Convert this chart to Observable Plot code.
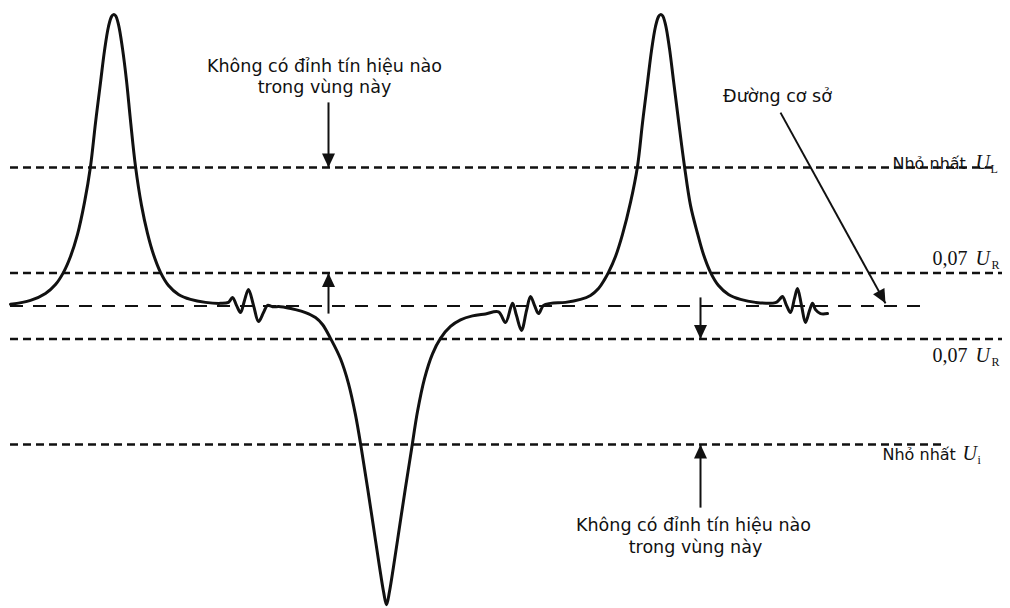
<!DOCTYPE html>
<html><head><meta charset="utf-8">
<script src="https://cdn.jsdelivr.net/npm/d3@7"></script>
<script src="https://cdn.jsdelivr.net/npm/@observablehq/plot@0.6"></script>
<style>body{margin:0;background:#fff}</style>
</head><body><div id="chart"></div>
<script>
// Signal trace: time (arbitrary units) and amplitude relative to the baseline
const signalT = [10,30,45,55,63,70,77,84,90,95,100,104,108,111,113,115,118,122,126,130,135,141,147,153,160,168,178,190,205,220,
  228,232,236,240,244,248,253,258,263,267,272,280,295,305,315,322,
  330,340,348,355,361,367,373,379,383,386,389,393,399,405,411,417,424,432,440,450,460,472,485,498,
  505,512,516,521,526,530,534,538,543,550,565,580,590,598,604,608,615,622,630,637,642,647,651,655,658,660,662,665,669,673,678,684,690,697,703,710,718,728,740,755,775,
  779,782,786,790,794,797,801,805,809,812,815,820,827];
const signalV = [0.5,1.7,3.8,6.5,10.2,15.0,21.7,31.4,42.3,55.5,67.7,77.4,84.7,87.7,88.3,88.0,85.3,78.0,68.3,56.2,42.3,30.5,22.0,15.6,10.2,6.2,3.5,2.0,1.1,0.8,
  1.1,2.6,0.2,-2.0,1.7,5.0,0.2,-4.7,-2.0,0.2,-0.2,-0.2,-1.1,-2.0,-3.5,-5.6,
  -9.8,-16.0,-23.5,-33.0,-43.5,-55.0,-67.0,-79.0,-86.5,-90.5,-86.5,-79.0,-67.0,-55.0,-43.5,-32.0,-22.0,-14.5,-9.8,-6.2,-4.2,-3.0,-2.4,-1.8,
  -5.0,0.8,-2.9,-7.4,-1.4,2.9,0.2,-2.3,0.2,0.8,1.1,2.0,3.2,5.3,8.0,10.2,15.0,21.7,31.4,42.3,55.5,67.7,77.4,84.7,87.7,88.3,88.0,85.3,78.0,68.3,56.2,42.3,30.5,22.0,15.6,10.2,6.2,3.5,2.0,1.1,1.0,
  2.0,2.9,0.2,-2.0,2.3,5.3,0.2,-5.0,-1.4,0.8,-1.1,-2.3,-2.3];

// Threshold levels (amplitude) and their time extents
const levelNames = ["Nhỏ nhất U_L", "+0,07 U_R", "Đường cơ sở", "-0,07 U_R", "Nhỏ nhất U_i"];
const levelValues = [42, 10, 0, -10, -42];
const levelFrom = [10, 10, 10, 10, 10];
const levelTo = [992, 1002, 927, 1002, 942];

// Annotation arrows (from -> to)
const arrowT1 = [328, 328, 700, 700, 780];
const arrowV1 = [61.7, -2.3, 2.6, -61.1, 58.6];
const arrowT2 = [328, 328, 700, 700, 885];
const arrowV2 = [42, 10, -10, -42, 0.8];

// Annotation texts
const noteText = ["Không có đỉnh tín hiệu nào", "trong vùng này", "Không có đỉnh tín hiệu nào", "trong vùng này", "Đường cơ sở"];
const noteT = [324, 324, 693, 695, 777];
const noteV = [70.8, 64.4, -68.3, -75.0, 61.7];

// Level labels: prefix, symbol, subscript
const labelPrefix = ["Nhỏ nhất", "0,07", "0,07", "Nhỏ nhất"];
const labelPrefixT = [892, 932, 932, 882];
const labelV = [41.4, 12.3, -17.1, -46.8];
const labelSymbol = ["U", "U", "U", "U"];
const labelSymbolT = [975, 975, 975, 962];
const labelSub = ["L", "R", "R", "i"];
const labelSubT = [990, 991, 991, 977];
const labelSubV = [40.2, 11.1, -18.3, -48.0];

const signal = signalT.map((t, i) => ({t, v: signalV[i]}));
const levels = levelNames.map((name, i) => ({name, v: levelValues[i], t1: levelFrom[i], t2: levelTo[i]}));
const arrows = arrowT1.map((t, i) => ({t1: t, v1: arrowV1[i], t2: arrowT2[i], v2: arrowV2[i]}));

function head(color) {
  const ns = "http://www.w3.org/2000/svg";
  const m = document.createElementNS(ns, "marker");
  m.setAttribute("viewBox", "-15 -8 16 16");
  m.setAttribute("markerWidth", "16");
  m.setAttribute("markerHeight", "16");
  m.setAttribute("markerUnits", "userSpaceOnUse");
  m.setAttribute("orient", "auto");
  const p = document.createElementNS(ns, "path");
  p.setAttribute("d", "M0,0L-14,-6.5L-14,6.5Z");
  p.setAttribute("fill", color);
  p.setAttribute("stroke", "none");
  m.appendChild(p);
  return m;
}

const sans = "DejaVu Sans, Liberation Sans, sans-serif";
const serif = "Liberation Serif, DejaVu Serif, serif";
const isSans = (d, i) => i === 0 || i === 3;

const chart = Plot.plot({
  width: 1010,
  height: 608,
  margin: 0,
  x: {domain: [0, 1010], axis: null},
  y: {domain: [-91.67, 92.58], axis: null},
  marks: [
    Plot.ruleY(levels.filter(d => d.v !== 0), {y: "v", x1: "t1", x2: "t2", stroke: "#111", strokeWidth: 2.5, strokeDasharray: "8,5"}),
    Plot.ruleY(levels.filter(d => d.v === 0), {y: "v", x1: "t1", x2: "t2", stroke: "#111", strokeWidth: 2.2, strokeDasharray: "13,10"}),
    Plot.line(signal, {x: "t", y: "v", curve: "catmull-rom", stroke: "#111", strokeWidth: 3}),
    Plot.link(arrows, {x1: "t1", y1: "v1", x2: "t2", y2: "v2", stroke: "#111", strokeWidth: 2, markerEnd: head}),
    Plot.text(noteText, {x: noteT, y: noteV, text: d => d, fontFamily: sans, fontSize: 17.5, fill: "#111", lineAnchor: "bottom", textAnchor: "middle"}),
    Plot.text(labelPrefix, {filter: isSans, x: labelPrefixT, y: labelV, text: d => d, fontFamily: sans, fontSize: 16, fill: "#111", lineAnchor: "bottom", textAnchor: "start"}),
    Plot.text(labelPrefix, {filter: (d, i) => !isSans(d, i), x: labelPrefixT, y: labelV, text: d => d, fontFamily: serif, fontSize: 20, fill: "#111", lineAnchor: "bottom", textAnchor: "start"}),
    Plot.text(labelSymbol, {x: labelSymbolT, y: labelV, text: d => d, fontFamily: serif, fontStyle: "italic", fontSize: 20, fill: "#111", lineAnchor: "bottom", textAnchor: "start"}),
    Plot.text(labelSub, {x: labelSubT, y: labelSubV, text: d => d, fontFamily: serif, fontSize: 12, fill: "#111", lineAnchor: "bottom", textAnchor: "start"})
  ]
});
document.getElementById("chart").appendChild(chart);
</script>
</body></html>
